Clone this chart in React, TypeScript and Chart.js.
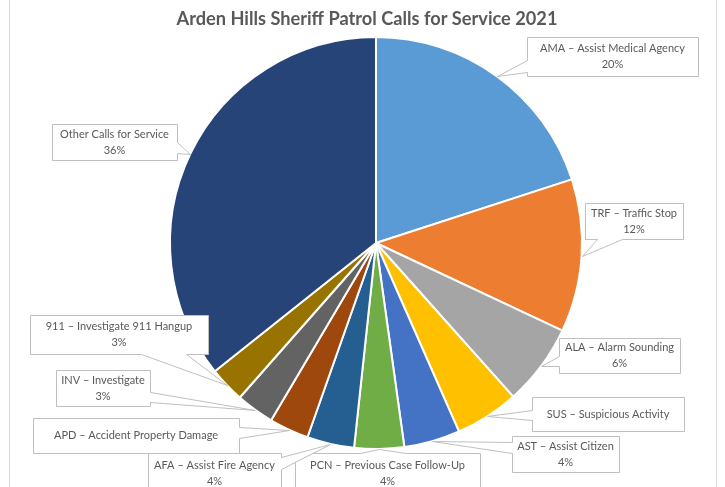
import { useEffect, useRef } from "react";
import { Chart, registerables } from "chart.js";

Chart.register(...registerables);

const TITLE = "Arden Hills Sheriff Patrol Calls for Service 2021";

const categories = [
  "AMA – Assist Medical Agency",
  "TRF – Traffic Stop",
  "ALA – Alarm Sounding",
  "SUS – Suspicious Activity",
  "AST – Assist Citizen",
  "PCN – Previous Case Follow-Up",
  "AFA – Assist Fire Agency",
  "APD – Accident Property Damage",
  "INV – Investigate",
  "911 – Investigate 911 Hangup",
  "Other Calls for Service",
];

const shares = [20, 12, 6.4, 5, 4.4, 3.9, 3.7, 3.1, 3.0, 2.8, 35.7];

const showPercent = [true, true, true, false, true, true, true, false, true, true, true];

const sliceColors = [
  "#5B9BD5",
  "#ED7D31",
  "#A5A5A5",
  "#FFC000",
  "#4472C4",
  "#70AD47",
  "#255E91",
  "#9E480E",
  "#636363",
  "#997300",
  "#264478",
];

// callout box layout: [x, y, w, h]
const labelBoxes = [
  [527, 37, 171, 39],
  [585, 203, 98, 36],
  [559, 338, 121, 35],
  [532, 397, 152, 34],
  [512, 436, 107, 36],
  [295, 453, 185, 40],
  [148, 453, 133, 40],
  [33, 418, 206, 35],
  [56, 370, 94, 36],
  [30, 315, 178, 39],
  [52, 124, 125, 36],
];

const FONT = "Lato";
const TEXT_COLOR = "#595959";
const LINE_COLOR = "#BFBFBF";

function drawCallout(ctx: CanvasRenderingContext2D, box: number[], ax: number, ay: number) {
  const [x, y, w, h] = box;
  const r = x + w;
  const b = y + h;
  const dxOut = ax < x ? x - ax : ax > r ? ax - r : 0;
  const dyOut = ay < y ? y - ay : ay > b ? ay - b : 0;
  let side: string;
  if (dxOut >= dyOut) side = ax < x ? "left" : "right";
  else side = ay < y ? "top" : "bottom";

  const pts: number[][] = [];
  const clamp = (v: number, lo: number, hi: number) => Math.max(lo, Math.min(hi, v));
  if (side === "top" || side === "bottom") {
    const half = (w * 0.25) / 2;
    let c = ((x + r) / 2 + clamp(ax, x, r)) / 2;
    c = clamp(c, x + half, r - half);
    if (side === "top") {
      pts.push([x, y], [c - half, y], [ax, ay], [c + half, y], [r, y], [r, b], [x, b]);
    } else {
      pts.push([x, y], [r, y], [r, b], [c + half, b], [ax, ay], [c - half, b], [x, b]);
    }
  } else {
    const half = (h * 0.3) / 2;
    let c = ((y + b) / 2 + clamp(ay, y, b)) / 2;
    c = clamp(c, y + half, b - half);
    if (side === "right") {
      pts.push([x, y], [r, y], [r, c - half], [ax, ay], [r, c + half], [r, b], [x, b]);
    } else {
      pts.push([x, y], [r, y], [r, b], [x, b], [x, c + half], [ax, ay], [x, c - half]);
    }
  }
  ctx.beginPath();
  pts.forEach((p, i) => {
    const px = Math.round(p[0]) + 0.5;
    const py = Math.round(p[1]) + 0.5;
    if (i === 0) ctx.moveTo(px, py);
    else ctx.lineTo(px, py);
  });
  ctx.closePath();
  ctx.fillStyle = "#FFFFFF";
  ctx.fill();
  ctx.strokeStyle = LINE_COLOR;
  ctx.lineWidth = 1;
  ctx.stroke();
}

const overlayPlugin = {
  id: "overlay",
  afterDraw(chart: any) {
    const ctx: CanvasRenderingContext2D = chart.ctx;
    ctx.save();
    // frame
    ctx.strokeStyle = "#D9D9D9";
    ctx.lineWidth = 1;
    ctx.beginPath();
    ctx.moveTo(9.5, 0);
    ctx.lineTo(9.5, 487);
    ctx.moveTo(716.5, 0);
    ctx.lineTo(716.5, 487);
    ctx.stroke();

    // title
    ctx.fillStyle = TEXT_COLOR;
    ctx.font = `bold 18px ${FONT}`;
    const tw = ctx.measureText(TITLE).width;
    const size = (18 * 381) / tw;
    ctx.font = `bold ${size.toFixed(2)}px ${FONT}`;
    ctx.textAlign = "center";
    ctx.textBaseline = "middle";
    ctx.fillText(TITLE, 367, 19);

    // callouts
    const meta = chart.getDatasetMeta(0);
    const data = chart.data.datasets[0].data as number[];
    const total = data.reduce((a: number, v: number) => a + v, 0);
    meta.data.forEach((arc: any, i: number) => {
      const p = arc.getProps(["x", "y", "startAngle", "endAngle", "outerRadius"], true);
      const mid = (p.startAngle + p.endAngle) / 2;
      const ax = p.x + Math.cos(mid) * p.outerRadius;
      const ay = p.y + Math.sin(mid) * p.outerRadius;
      const box = labelBoxes[i];
      drawCallout(ctx, box, ax, ay);
      const lines = [chart.data.labels[i] as string];
      if (showPercent[i]) lines.push(Math.round((data[i] / total) * 100) + "%");
      ctx.fillStyle = TEXT_COLOR;
      ctx.font = `11px ${FONT}`;
      ctx.textAlign = "center";
      ctx.textBaseline = "middle";
      const cx = box[0] + box[2] / 2;
      const cy = box[1] + box[3] / 2;
      const lh = 16;
      lines.forEach((t, k) => {
        ctx.fillText(t, cx, cy + (k - (lines.length - 1) / 2) * lh);
      });
    });
    ctx.restore();
  },
};

export default function App() {
  const ref = useRef<HTMLCanvasElement | null>(null);
  useEffect(() => {
    if (!ref.current) return;
    const chart = new Chart(ref.current, {
      type: "pie",
      data: {
        labels: categories,
        datasets: [
          {
            data: shares,
            backgroundColor: sliceColors,
            borderColor: "#FFFFFF",
            borderWidth: 2,
          },
        ],
      },
      options: {
        animation: false,
        responsive: false,
        maintainAspectRatio: false,
        layout: { padding: { left: 169, right: 142, top: 36, bottom: 37 } },
        plugins: {
          legend: { display: false },
          title: { display: false },
          tooltip: { enabled: false },
        },
      },
      plugins: [overlayPlugin],
    });
    return () => chart.destroy();
  }, []);
  return (
    <div style={{ position: "fixed", left: 0, top: 0, width: 725, height: 487, background: "#FFFFFF" }}>
      <canvas ref={ref} width={725} height={487} style={{ width: 725, height: 487, display: "block" }} />
    </div>
  );
}
